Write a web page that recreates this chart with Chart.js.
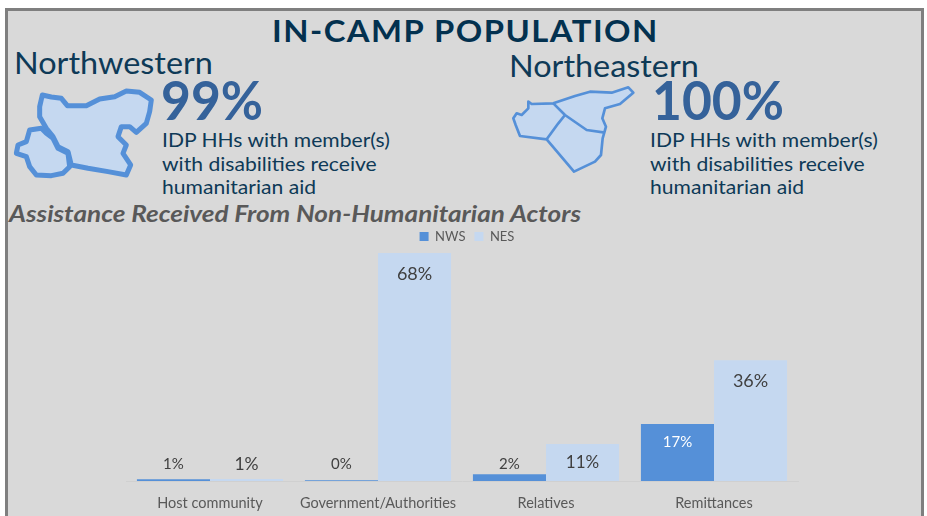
<!DOCTYPE html>
<html lang="en">
<head>
  <meta charset="UTF-8">
  <title>In-camp population</title>
  <script src="https://cdn.jsdelivr.net/npm/chart.js"></script>
  <style>
    html, body { margin: 0; padding: 0; background: #fff; overflow: hidden; }
    body { width: 927px; height: 516px; position: relative; font-family: Lato, Arial, sans-serif; }
    #panel { position: absolute; left: 5px; top: 8px; width: 913px; height: 520px; background: #d9d9d9; border: 3px solid #7f7f7f; }
    .t { position: absolute; white-space: nowrap; line-height: 1; transform-origin: left top; }
    #title { left: 272px; top: 15px; font-size: 31px; font-weight: 700; color: #03314f; letter-spacing: 1.4px; transform: scaleX(1.058); }
    .region { font-size: 30px; color: #0e3a57; transform: scaleX(1.08); }
    .big { font-size: 54px; font-weight: 700; color: #35629a; transform: scaleX(0.955); }
    .desc { font-size: 20px; line-height: 23.5px; color: #0e3a57; white-space: pre; transform: scaleX(1.055); }
    #sub { left: 9px; top: 202px; font-size: 23px; font-weight: 700; font-style: italic; color: #595959; transform: scaleX(1.135); }
    svg { position: absolute; left: 0; top: 0; }
    #wrap { position: absolute; left: 0; top: 219px; width: 927px; height: 297px; }
  </style>
</head>
<body>
  <div id="panel"></div>
  <div class="t" id="title">IN-CAMP POPULATION</div>
  <div class="t region" style="left:14px;top:47px">Northwestern</div>
  <div class="t region" style="left:509px;top:50px">Northeastern</div>
  <div class="t big" style="left:161px;top:73px">99%</div>
  <div class="t big" style="left:652px;top:73px">100%</div>
  <div class="t desc" style="left:162px;top:128px">IDP HHs with member(s)
with disabilities receive
humanitarian aid</div>
  <div class="t desc" style="left:650px;top:128px">IDP HHs with member(s)
with disabilities receive
humanitarian aid</div>
  <div class="t" id="sub">Assistance Received From Non-Humanitarian Actors</div>

  <!-- region outlines -->
  <svg width="927" height="230" viewBox="0 0 927 230">
    <g transform="translate(8 85) scale(0.3333)" fill="#c5d8f0" stroke="#5590d8" stroke-width="15" stroke-linejoin="round">
      <path d="M103 30 L130 36 L160 40 L178 62 L235 62 L275 42 L320 35 L355 18 L395 22 L430 45 L425 80 L415 115 L385 142 L365 125 L340 125 L330 155 L355 180 L345 205 L368 240 L355 270 L300 260 L240 250 L190 240 L180 200 L150 185 L135 155 L115 130 L95 95 L95 65 Z"/>
      <path d="M65 135 L100 130 L115 145 L135 160 L150 190 L180 205 L185 245 L165 265 L130 272 L85 270 L65 245 L55 215 L25 205 L30 180 L55 170 Z"/>
    </g>
    <g transform="translate(505 80) scale(0.3333)" fill="#c5d8f0" stroke="#5590d8" stroke-width="8" stroke-linejoin="round">
      <path d="M70 65 L80 72 L145 70 L210 48 L255 35 L320 38 L370 22 L385 38 L345 72 L300 85 L292 115 L303 140 L293 175 L288 225 L270 245 L207 275 L125 178 L45 168 L32 135 L25 115 L35 100 L50 105 L70 85 Z"/>
      <path d="M145 70 L180 105 L245 150 L300 158 M180 105 L160 130 L125 178" fill="none"/>
    </g>
  </svg>

  <div id="wrap"><canvas id="grafico" width="927" height="297"></canvas></div>

  <script>
    const categorias = ['Host community', 'Government/Authorities', 'Relatives', 'Remittances'];
    const valoresNWS = [0.5, 0.2, 2, 17];
    const valoresNES = [0.6, 68, 11, 36];
    const corNWS = '#5590d8';
    const corNES = '#c5d8f0';

    // tamanho de fonte de cada rotulo, varia no original
    const fonteNWS = [15, 15, 15, 15];
    const fonteNES = [17.5, 18, 17, 18];

    const rotulos = {
      id: 'rotulos',
      afterLayout(chart) {
        // legenda um pouco a direita do centro do grafico
        chart.legend.left += 5;
        chart.legend.right += 5;
      },
      afterDatasetsDraw(chart) {
        const ctx = chart.ctx;
        ctx.save();
        ctx.textAlign = 'center';
        ctx.textBaseline = 'middle';
        chart.data.datasets.forEach((ds, i) => {
          chart.getDatasetMeta(i).data.forEach((bar, j) => {
            const v = ds.data[j];
            const tam = i === 0 ? fonteNWS[j] : fonteNES[j];
            ctx.font = tam + 'px Lato, Arial, sans-serif';
            let y = Math.min(bar.y - 10, bar.base - 17);
            ctx.fillStyle = '#404040';
            // as barras altas levam o rotulo por dentro
            if (v > 5) {
              y = bar.y + (v > 20 ? 21 : 18);
              if (i === 0) { ctx.fillStyle = '#ffffff'; }
            }
            ctx.fillText(Math.round(v) + '%', bar.x, y);
          });
        });
        ctx.restore();
      }
    };

    new Chart(document.getElementById('grafico').getContext('2d'), {
      type: 'bar',
      data: {
        labels: categorias,
        datasets: [
          { label: 'NWS', data: valoresNWS, backgroundColor: corNWS },
          { label: 'NES', data: valoresNES, backgroundColor: corNES }
        ]
      },
      options: {
        responsive: false,
        animation: false,
        layout: { padding: { left: 126, right: 129, top: 2, bottom: 0 } },
        datasets: { bar: { categoryPercentage: 0.87, barPercentage: 1 } },
        plugins: {
          tooltip: { enabled: false },
          legend: {
            position: 'top',
            labels: { boxWidth: 9, boxHeight: 9, padding: 9, color: '#595959', font: { family: 'Lato', size: 13 } }
          }
        },
        scales: {
          x: {
            afterFit(s) { s.height = 35; },
            grid: { display: false },
            border: { color: '#d0d0d0' },
            ticks: { color: '#595959', font: { family: 'Lato', size: 14.5 }, padding: 6, maxRotation: 0 }
          },
          y: { display: false, min: 0, max: 68 }
        }
      },
      plugins: [rotulos]
    });
  </script>
</body>
</html>
